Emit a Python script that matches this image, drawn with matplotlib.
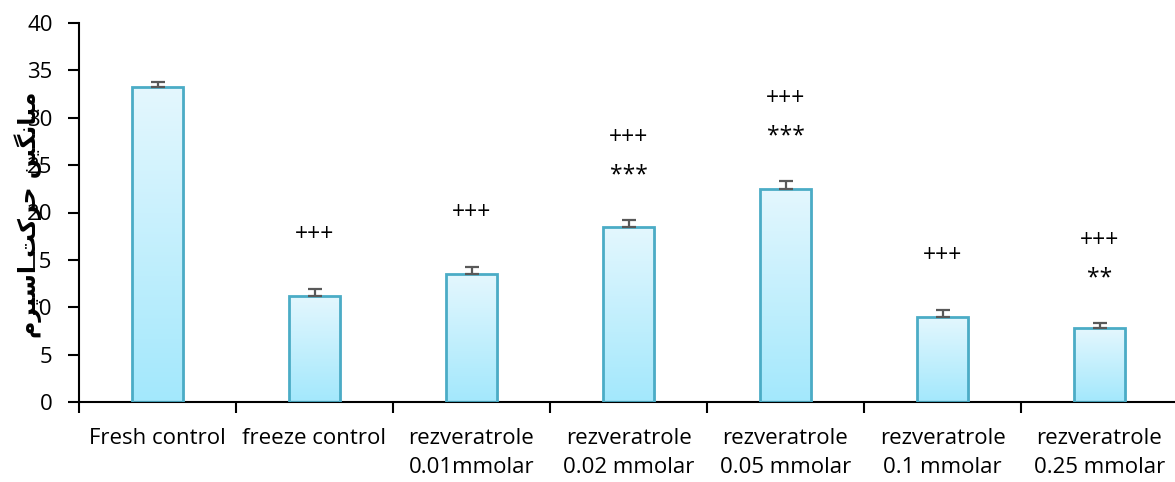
import numpy as np
import matplotlib
matplotlib.use("Agg")
import matplotlib.pyplot as plt
from matplotlib.colors import LinearSegmentedColormap
from matplotlib.patches import Rectangle

plt.rcParams['font.family'] = ['Open Sans', 'DejaVu Sans']

# ---------------------------------------------------------------------------------
# Data
# ---------------------------------------------------------------------------------
groups = ["Fresh control", "freeze control", "rezveratrole\n0.01mmolar",
          "rezveratrole\n0.02 mmolar", "rezveratrole\n0.05 mmolar",
          "rezveratrole\n0.1 mmolar", "rezveratrole\n0.25 mmolar"]
means = [33.2, 11.2, 13.5, 18.5, 22.5, 9.0, 7.8]
errors = [0.6, 0.7, 0.7, 0.7, 0.8, 0.7, 0.5]
marks_low = ["", "+++", "+++", "***", "***", "+++", "**"]
marks_high = ["", "", "", "+++", "+++", "", "+++"]

# y label: "میانگین حرکت اسپرم" written with presentation forms in visual order
# (matplotlib does no arabic shaping by itself)
ylabel_glyphs = ["\uFEE3", "\uFBFF", "\uFE8E", "\uFEE7", "\uFB95", "\uFBFF", "\uFEE6", " ",
                 "\uFEA3", "\uFEAE", "\uFB90", "\uFE96", " ",
                 "\uFE8D", "\uFEB3", "\uFB59", "\uFEAE", "\uFEE1"]
ylabel = "".join(reversed(ylabel_glyphs))

# ---------------------------------------------------------------------------------
# Figure
# ---------------------------------------------------------------------------------
fig = plt.figure(figsize=(11.75, 4.82), dpi=100)
ax = fig.add_axes([79 / 1175, 80 / 482, 1099 / 1175, 379 / 482])

x = np.arange(len(groups))
bw = 0.32
edge = "#4BACC6"
grad = LinearSegmentedColormap.from_list("bar", ["#A3E8FC", "#E4F7FE"])
gimg = np.linspace(0, 1, 256).reshape(-1, 1)

for xi, m in zip(x, means):
    # faint shadow
    ax.add_patch(Rectangle((xi - bw / 2 + 0.012, 0), bw, m - 0.15, facecolor="#000000",
                           alpha=0.08, edgecolor="none", zorder=1))
    rect = Rectangle((xi - bw / 2, 0), bw, m, facecolor="none", edgecolor=edge,
                     lw=2, zorder=3)
    ax.add_patch(rect)
    im = ax.imshow(gimg, cmap=grad, origin="lower", aspect="auto",
                   extent=[xi - bw / 2, xi + bw / 2, 0, m], zorder=2)
    im.set_clip_path(rect)

ax.errorbar(x, means, yerr=[np.zeros(len(errors)), errors], fmt="none",
            ecolor="#595959", elinewidth=1.6, capsize=5, capthick=1.6, zorder=4)


def put_mark(txt, xi, top, dy):
    # open sans draws the asterisk high in the line, pull it down a bit
    if txt.startswith("*"):
        dy -= 9
    ax.annotate(txt, (xi, top), xytext=(0, dy), textcoords="offset pixels",
                ha="center", va="center", fontsize=16.5, color="black")


for xi, m, e, lo, hi in zip(x, means, errors, marks_low, marks_high):
    if lo:
        put_mark(lo, xi, m + e, 54)
    if hi:
        put_mark(hi, xi, m + e, 82)

ax.set_xlim(-0.5, len(groups) - 0.5)
ax.set_ylim(0, 40)
ax.set_yticks(np.arange(0, 41, 5))
ax.set_xticks(x)
ax.set_xticklabels(groups, fontsize=16, linespacing=1.45)
ax.set_xticks(np.arange(-0.5, len(groups), 1.0), minor=True)
ax.tick_params(axis="x", which="major", length=0, pad=19)
ax.tick_params(axis="x", which="minor", length=8, width=1.5, direction="out")
ax.tick_params(axis="y", length=8, width=1.5, direction="out", labelsize=16, pad=11)

for s in ["top", "right"]:
    ax.spines[s].set_visible(False)
for s in ["left", "bottom"]:
    ax.spines[s].set_linewidth(1.5)

fig.text(28 / 1175, 1 - 215 / 482, ylabel, rotation=90, ha="center", va="center",
         fontsize=17, fontweight="bold", family=["DejaVu Sans"])

fig.savefig("out.png", dpi=100)
